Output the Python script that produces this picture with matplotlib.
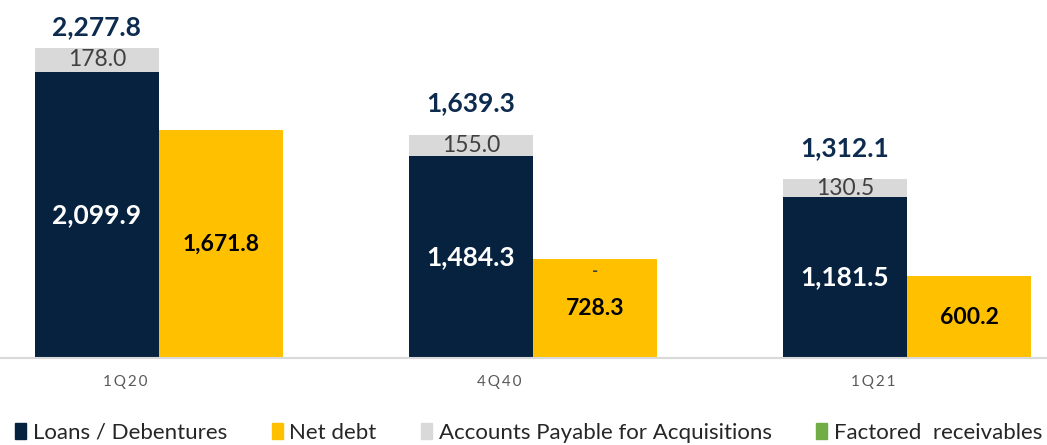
import matplotlib.pyplot as plt
from matplotlib.patches import Patch

plt.rcParams['font.family'] = ['Lato', 'DejaVu Sans']

# Data
periods = ['1Q20', '4Q40', '1Q21']
loans = [2099.9, 1484.3, 1181.5]
accounts_payable = [178.0, 155.0, 130.5]
totals = [2277.8, 1639.3, 1312.1]
net_debt = [1671.8, 728.3, 600.2]
factored = [None, 0.0, None]   # shown as "-" on top of net debt

navy = '#06223F'
yellow = '#FFC000'
gray = '#D9D9D9'
green = '#70AD47'

fig = plt.figure(figsize=(10.47, 4.45), dpi=100)
ax = fig.add_axes([0, 0.1955, 1, 0.8045])

x = list(range(len(periods)))
w = 0.332

loan_x = [i - w / 2 for i in x]
debt_x = [i + w / 2 for i in x]

ax.bar(loan_x, loans, width=w, color=navy)
ax.bar(loan_x, accounts_payable, width=w, bottom=loans, color=gray)
ax.bar(debt_x, net_debt, width=w, color=yellow)

ax.set_xlim(-0.425, 2.374)
ax.set_ylim(0, 2628)

for i in x:
    ax.text(loan_x[i], loans[i] / 2, f'{loans[i]:,.1f}', ha='center', va='center',
            color='white', fontsize=19, fontweight='bold')
    ax.text(loan_x[i], loans[i] + accounts_payable[i] / 2, f'{accounts_payable[i]:,.1f}',
            ha='center', va='center', color='#404040', fontsize=16.5)
    ax.text(debt_x[i], net_debt[i] / 2, f'{net_debt[i]:,.1f}', ha='center', va='center',
            color='black', fontsize=16.5, fontweight='bold')
    top = loans[i] + accounts_payable[i]
    ty = min(top + 230, 2628 - 200)
    ax.text(loan_x[i], ty, f'{totals[i]:,.1f}', ha='center', va='center',
            color='#0D2B4E', fontsize=19, fontweight='bold')
    if factored[i] is not None:
        ax.text(debt_x[i], net_debt[i] - 30, '-', ha='center', va='top',
                color='#404040', fontsize=12, fontweight='bold')

# category labels (sit a bit left of the group centre in the original)
ax.set_xticks([i - 0.09 for i in x])
ax.set_xticklabels(['\u2009'.join(p) for p in periods], fontsize=11, color='#595959')
ax.tick_params(axis='x', length=0, pad=12)
ax.set_yticks([])

for s in ['top', 'right', 'left']:
    ax.spines[s].set_visible(False)
ax.spines['bottom'].set_color('#D9D9D9')
ax.spines['bottom'].set_linewidth(1.5)

handles = [Patch(color=navy), Patch(color=yellow), Patch(color=gray), Patch(color=green)]
labels = ['Loans / Debentures', 'Net debt', 'Accounts Payable for Acquisitions', 'Factored  receivables']
fig.legend(handles, labels, loc='lower center', bbox_to_anchor=(0.505, -0.04), ncol=4,
           frameon=False, fontsize=16, handlelength=0.5, handleheight=0.7,
           handletextpad=0.3, columnspacing=2.0, labelcolor='#262626')

fig.savefig('out.png', dpi=100)
